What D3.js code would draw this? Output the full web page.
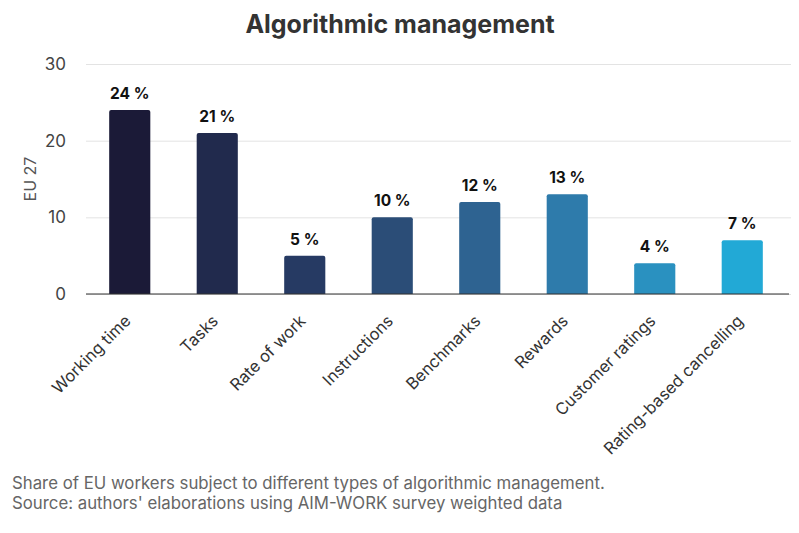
<!DOCTYPE html>
<html>
<head>
<meta charset="utf-8">
<script src="https://cdn.jsdelivr.net/npm/d3@7"></script>
<style>
  body { margin: 0; background: #fff; }
  text { font-family: "Inter", "Helvetica Neue", Arial, sans-serif; }
</style>
</head>
<body>
<div id="chart"></div>
<script>
// data
var categories = ["Working time", "Tasks", "Rate of work", "Instructions",
                  "Benchmarks", "Rewards", "Customer ratings", "Rating-based cancelling"];
var values = [24, 21, 5, 10, 12, 13, 4, 7];
var colors = ["#1b1a37", "#212a4d", "#263a63", "#2b4d77",
              "#2e6391", "#2e7bab", "#2a91c0", "#22a9d6"];
var yTicks = [0, 10, 20, 30];

var W = 799, H = 533;
var margin = {top: 64, right: 8, bottom: 239, left: 86},
    width = W - margin.left - margin.right,
    height = H - margin.top - margin.bottom;

var svg = d3.select("#chart").append("svg")
    .attr("width", W)
    .attr("height", H);

// title
svg.append("text")
    .attr("x", 400)
    .attr("y", 33)
    .attr("text-anchor", "middle")
    .attr("font-size", 25)
    .attr("font-weight", "bold")
    .attr("fill", "#333")
    .text("Algorithmic management");

var g = svg.append("g")
    .attr("transform", "translate(" + margin.left + "," + margin.top + ")");

var x = d3.scaleBand().domain(categories).range([0, 700]).paddingInner(0.53).paddingOuter(0.265);
var y = d3.scaleLinear().domain([0, 30]).range([height, 0]);

// gridlines + y tick labels
var yAxis = d3.axisLeft(y).tickValues(yTicks).tickSize(-width).tickPadding(20);
g.append("g")
    .attr("class", "yaxis")
    .call(yAxis)
    .call(function(s) { s.select(".domain").remove(); })
    .call(function(s) {
      s.selectAll(".tick line").attr("stroke", "#e3e3e3");
      s.selectAll(".tick text").attr("font-size", 17).attr("fill", "#444");
    });

// y title
svg.append("text")
    .attr("transform", "translate(36," + (margin.top + height / 2) + ") rotate(-90)")
    .attr("text-anchor", "middle")
    .attr("font-size", 16)
    .attr("fill", "#555")
    .text("EU 27");

// bars with rounded top corners
var r = 2;
g.selectAll(".bar")
  .data(values)
  .enter()
  .append("path")
    .attr("class", "bar")
    .attr("fill", function(d, i) { return colors[i]; })
    .attr("d", function(d, i) {
      var x0 = x(categories[i]), w = x.bandwidth(), y0 = y(d), y1 = y(0);
      return "M" + x0 + "," + y1 + "V" + (y0 + r) +
        "Q" + x0 + "," + y0 + " " + (x0 + r) + "," + y0 +
        "H" + (x0 + w - r) +
        "Q" + (x0 + w) + "," + y0 + " " + (x0 + w) + "," + (y0 + r) +
        "V" + y1 + "Z";
    });

// value labels
g.selectAll(".lbl")
  .data(values)
  .enter()
  .append("text")
    .attr("class", "lbl")
    .attr("x", function(d, i) { return x(categories[i]) + x.bandwidth() / 2; })
    .attr("y", function(d) { return y(d) - 11; })
    .attr("text-anchor", "middle")
    .attr("font-size", 15.5)
    .attr("font-weight", "bold")
    .attr("fill", "#111")
    .text(function(d) { return d + " %"; });

// x axis
var xAxis = d3.axisBottom(x).tickSize(0).tickPadding(0);
g.append("g")
    .attr("class", "xaxis")
    .attr("transform", "translate(0," + height + ")")
    .call(xAxis)
    .call(function(s) {
      s.select(".domain").attr("d", "M0,0H" + (width - 2)).attr("stroke", "#333").attr("stroke-width", 1.2);
      s.selectAll(".tick text")
        .attr("font-size", 16.5)
        .attr("fill", "#333")
        .attr("text-anchor", "end")
        .attr("dy", 0)
        .attr("y", 0)
        .attr("transform", "translate(2,28) rotate(-45)");
    });

// footnote
var notes = ["Share of EU workers subject to different types of algorithmic management.",
             "Source: authors' elaborations using AIM-WORK survey weighted data"];
svg.selectAll(".note")
  .data(notes)
  .enter()
  .append("text")
    .attr("class", "note")
    .attr("x", 12)
    .attr("y", function(d, i) { return 489 + i * 20; })
    .attr("font-size", 16.8)
    .attr("fill", "#666")
    .text(function(d) { return d; });
</script>
</body>
</html>
